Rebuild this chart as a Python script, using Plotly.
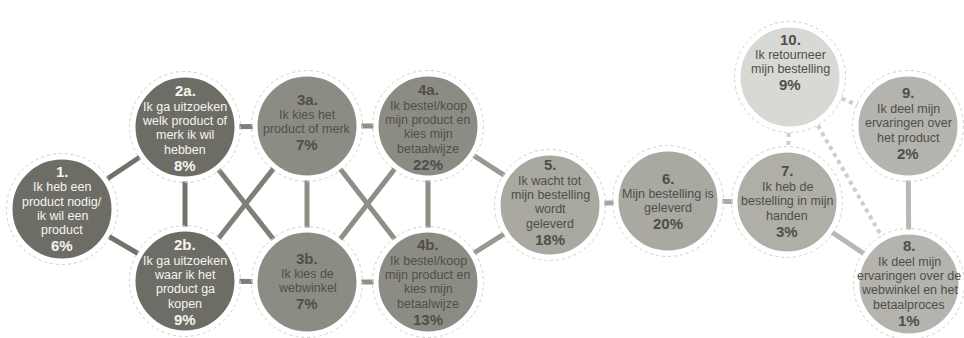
import plotly.graph_objects as go

# ---- data ----
node_ids = ["1", "2a", "2b", "3a", "3b", "4a", "4b", "5", "6", "7", "8", "9", "10"]
headers = ["1.", "2a.", "2b.", "3a.", "3b.", "4a.", "4b.", "5.", "6.", "7.", "8.", "9.", "10."]
bodies = [
    ["Ik heb een", "product nodig/", "ik wil een", "product"],
    ["Ik ga uitzoeken", "welk product of", "merk ik wil", "hebben"],
    ["Ik ga uitzoeken", "waar ik het", "product ga", "kopen"],
    ["Ik kies het", "product of merk"],
    ["Ik kies de", "webwinkel"],
    ["Ik bestel/koop", "mijn product en", "kies mijn", "betaalwijze"],
    ["Ik bestel/koop", "mijn product en", "kies mijn", "betaalwijze"],
    ["Ik wacht tot", "mijn bestelling", "wordt", "geleverd"],
    ["Mijn bestelling is", "geleverd"],
    ["Ik heb de", "bestelling in mijn", "handen"],
    ["Ik deel mijn", "ervaringen over de", "webwinkel en het", "betaalproces"],
    ["Ik deel mijn", "ervaringen over", "het product"],
    ["Ik retourneer", "mijn bestelling"],
]
percentages = [6, 8, 9, 7, 7, 22, 13, 18, 20, 3, 1, 2, 9]

solid_edges = [("1", "2a"), ("1", "2b"), ("2a", "2b"), ("2a", "3a"), ("2a", "3b"),
               ("2b", "3a"), ("2b", "3b"), ("3a", "3b"), ("3a", "4a"), ("3a", "4b"),
               ("3b", "4a"), ("3b", "4b"), ("4a", "4b"), ("4a", "5"), ("4b", "5"),
               ("5", "6"), ("6", "7"), ("7", "8"), ("9", "8")]
dotted_edges = [("10", "7"), ("10", "8"), ("10", "9")]

# ---- layout (pixel positions) & styles ----
pos = {"1": (62, 209), "2a": (185, 127), "2b": (185, 281), "3a": (307, 126), "3b": (307, 282),
       "4a": (428, 126), "4b": (428, 282), "5": (550, 205), "6": (668, 201), "7": (787, 202),
       "8": (909, 284), "9": (908, 126), "10": (790, 77)}
text_center = {"1": 208.5, "2a": 128, "2b": 282, "3a": 122, "3b": 281, "4a": 127, "4b": 282,
               "5": 202, "6": 201, "7": 201, "8": 283, "9": 123, "10": 62}
fill = {"1": "#6e6d65", "2a": "#6e6d65", "2b": "#6e6d65",
        "3a": "#8d8c84", "3b": "#8d8c84", "4a": "#8d8c84", "4b": "#8d8c84",
        "5": "#a9a8a1", "6": "#a9a8a1", "7": "#afaea7", "8": "#b4b3ad", "9": "#b4b3ad",
        "10": "#d8d8d4"}
txt_col = {k: ("#f4f4f2" if k in ("1", "2a", "2b") else "#4f4f4a") for k in node_ids}
edge_col = {("1", "2a"): "#72716a", ("1", "2b"): "#72716a", ("2a", "2b"): "#72716a",
            ("2a", "3a"): "#807f77", ("2a", "3b"): "#807f77", ("2b", "3a"): "#807f77",
            ("2b", "3b"): "#807f77", ("3a", "3b"): "#8f8e86", ("3a", "4a"): "#8f8e86",
            ("3a", "4b"): "#8f8e86", ("3b", "4a"): "#8f8e86", ("3b", "4b"): "#8f8e86",
            ("4a", "4b"): "#8f8e86", ("4a", "5"): "#9a9991", ("4b", "5"): "#9a9991",
            ("5", "6"): "#a6a59e", ("6", "7"): "#abaaa3", ("7", "8"): "#b8b7b1",
            ("9", "8"): "#b8b7b1"}
R = 52

fig = go.Figure()

for a, b in solid_edges:
    fig.add_trace(go.Scatter(x=[pos[a][0], pos[b][0]], y=[pos[a][1], pos[b][1]], mode="lines",
                             line=dict(color=edge_col[(a, b)], width=5), hoverinfo="skip",
                             showlegend=False))
for a, b in dotted_edges:
    fig.add_trace(go.Scatter(x=[pos[a][0], pos[b][0]], y=[pos[a][1], pos[b][1]], mode="lines",
                             line=dict(color="#cdcdc9", width=4, dash="dot"), hoverinfo="skip",
                             showlegend=False))

fig.add_trace(go.Scatter(
    x=[pos[k][0] for k in node_ids], y=[pos[k][1] for k in node_ids], mode="markers",
    marker=dict(size=2 * R, color=[fill[k] for k in node_ids],
                line=dict(color="white", width=5), opacity=1),
    hoverinfo="skip", showlegend=False))

shapes = []
for k in node_ids:
    cx, cy = pos[k]
    rr = R + 3.5
    shapes.append(dict(type="circle", xref="x", yref="y", x0=cx - rr, x1=cx + rr,
                       y0=cy - rr, y1=cy + rr, line=dict(color="#cfcfcb", width=1, dash="dot"),
                       layer="above"))

FONT = "Liberation Sans, Arial, sans-serif"
annotations = []
for i, k in enumerate(node_ids):
    lines = [(headers[i], True)] + [(t, False) for t in bodies[i]] + [(f"{percentages[i]}%", True)]
    gaps = [16] + [14.3] * (len(bodies[i]) - 1) + [15.5]
    total = sum(gaps)
    y = text_center[k] - total / 2
    cx = pos[k][0]
    for j, (t, bold) in enumerate(lines):
        annotations.append(dict(
            x=cx, y=y, xref="x", yref="y", showarrow=False,
            text=f"<b>{t}</b>" if bold else t,
            font=dict(family=FONT, size=15 if bold else 12.5, color=txt_col[k]),
            xanchor="center", yanchor="middle"))
        if j < len(gaps):
            y += gaps[j]

fig.update_layout(
    width=964, height=338, margin=dict(l=0, r=0, t=0, b=0),
    paper_bgcolor="white", plot_bgcolor="white",
    xaxis=dict(range=[0, 964], visible=False, fixedrange=True),
    yaxis=dict(range=[338, 0], visible=False, fixedrange=True),
    shapes=shapes, annotations=annotations, showlegend=False)

fig.write_html("out.html", config={"displayModeBar": False},
               post_script="document.body.style.margin='0';document.body.style.overflow='hidden';")
